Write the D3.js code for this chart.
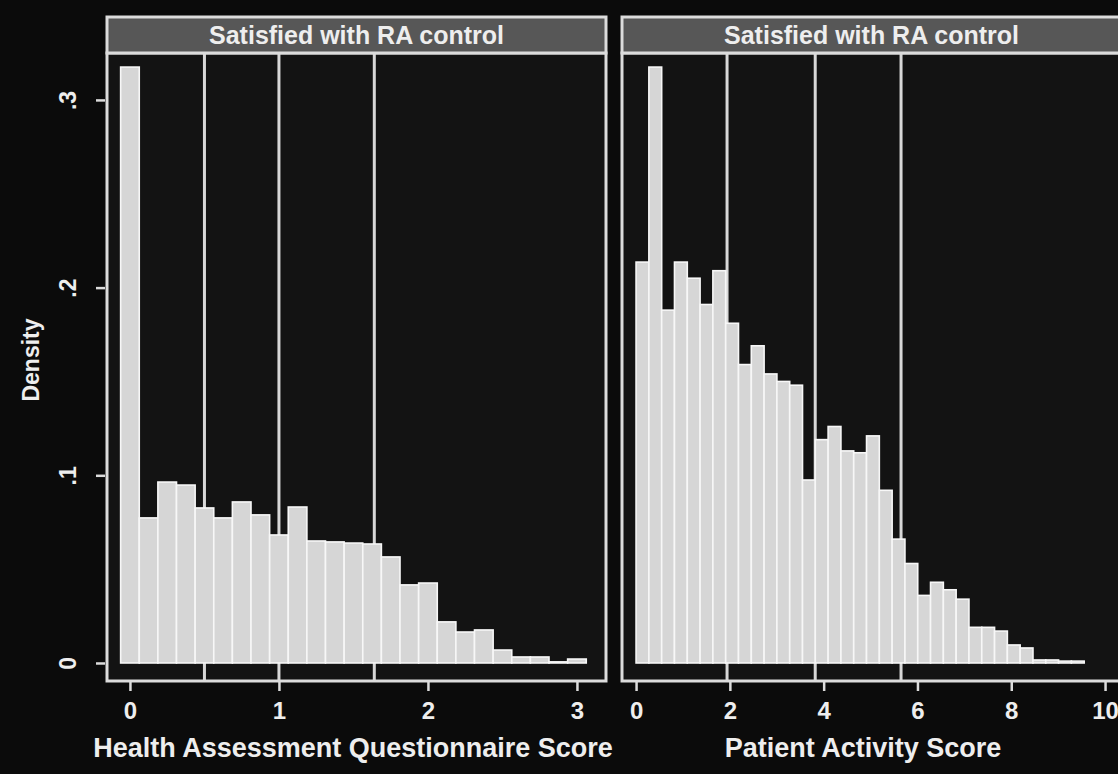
<!DOCTYPE html>
<html><head><meta charset="utf-8">
<script src="https://cdn.jsdelivr.net/npm/d3@7"></script>
<style>
body{margin:0;background:#0b0b0b;}
svg{display:block;}
text{font-family:"Liberation Sans",Arial,Helvetica,sans-serif;fill:#eeeeee;font-weight:bold;}
</style>
</head><body>
<svg id="c" width="1118" height="774"></svg>
<script>
// ---- data ----
const panelTitles = ["Satisfied with RA control", "Satisfied with RA control"];
const xTitles = ["Health Assessment Questionnaire Score", "Patient Activity Score"];
const yTitle = "Density";
const yTicks = [0, 0.1, 0.2, 0.3];
const yTickLabels = ["0", ".1", ".2", ".3"];
const haqTicks = [0, 1, 2, 3];
const pasTicks = [0, 2, 4, 6, 8, 10];

const haqBinStart = -0.0625;
const haqBinWidth = 0.125;
const haqDensity = [0.3175, 0.0773, 0.0964, 0.0948, 0.0826, 0.0773, 0.0858, 0.0789, 0.0682, 0.0831,
  0.0650, 0.0645, 0.0639, 0.0634, 0.0565, 0.0416, 0.0426, 0.0219, 0.0165, 0.0176,
  0.0069, 0.0032, 0.0032, 0.0006, 0.0021];

const pasBinStart = 0;
const pasBinWidth = 0.273;
const pasDensity = [0.2136, 0.3175, 0.1880, 0.2136, 0.2050, 0.1910, 0.2090, 0.1810, 0.1590, 0.1690,
  0.1540, 0.1500, 0.1480, 0.0975, 0.1190, 0.1260, 0.1130, 0.1120, 0.1210, 0.0920,
  0.0660, 0.0530, 0.0360, 0.0430, 0.0390, 0.0340, 0.0190, 0.0190, 0.0170, 0.0096,
  0.0080, 0.0016, 0.0016, 0.0010, 0.0010];

const haqRefLines = [0.5, 1.0, 1.64];
const pasRefLines = [1.94, 3.82, 5.65];

// ---- layout ----
const svg = d3.select("#c");
svg.append("rect").attr("width", 1118).attr("height", 774).attr("fill", "#0b0b0b");

const headTop = 17, plotTop = 53, plotBottom = 681;
const y = d3.scaleLinear().domain([-0.0096, 0.325]).range([plotBottom, plotTop]);

const panels = [
  { x0: 107, x1: 606, domain: [-0.154, 3.195], bins: haqDensity, start: haqBinStart, width: haqBinWidth,
    ticks: haqTicks, refs: haqRefLines, title: panelTitles[0], xTitle: xTitles[0], xTitleX: 353, yAxis: true },
  { x0: 622, x1: 1121, domain: [-0.3, 10.34], bins: pasDensity, start: pasBinStart, width: pasBinWidth,
    ticks: pasTicks, refs: pasRefLines, title: panelTitles[1], xTitle: xTitles[1], xTitleX: 863, yAxis: false }
];

const lineCol = "#dcdcdc";

panels.forEach(p => {
  const x = d3.scaleLinear().domain(p.domain).range([p.x0, p.x1]);
  const g = svg.append("g");

  // plot region background
  g.append("rect").attr("x", p.x0).attr("y", plotTop).attr("width", p.x1 - p.x0)
    .attr("height", plotBottom - plotTop).attr("fill", "#131313");

  // reference lines (behind bars)
  g.selectAll("line.ref").data(p.refs).join("line").attr("class", "ref")
    .attr("x1", d => x(d)).attr("x2", d => x(d))
    .attr("y1", plotTop).attr("y2", plotBottom)
    .attr("stroke", "#d8d8d8").attr("stroke-width", 3);

  // bars
  g.selectAll("rect.bar").data(p.bins).join("rect").attr("class", "bar")
    .attr("x", (d, i) => x(p.start + i * p.width))
    .attr("width", (d, i) => x(p.start + (i + 1) * p.width) - x(p.start + i * p.width))
    .attr("y", d => y(d))
    .attr("height", d => y(0) - y(d))
    .attr("fill", "#d6d6d6").attr("stroke", "#f7f7f7").attr("stroke-width", 1.6);

  // frame
  g.append("rect").attr("x", p.x0).attr("y", plotTop).attr("width", p.x1 - p.x0)
    .attr("height", plotBottom - plotTop).attr("fill", "none")
    .attr("stroke", lineCol).attr("stroke-width", 3);

  // header
  g.append("rect").attr("x", p.x0).attr("y", headTop).attr("width", p.x1 - p.x0)
    .attr("height", plotTop - headTop).attr("fill", "#575757")
    .attr("stroke", lineCol).attr("stroke-width", 3);
  g.append("text").attr("x", (p.x0 + p.x1) / 2).attr("y", 44)
    .attr("text-anchor", "middle").style("font-size", "25px").text(p.title);

  // x axis
  const ax = g.append("g").attr("transform", `translate(0,${plotBottom + 1})`)
    .call(d3.axisBottom(x).tickValues(p.ticks).tickFormat(d3.format("d")).tickSize(9).tickPadding(11));
  ax.select(".domain").remove();
  ax.selectAll(".tick line").attr("stroke", lineCol).attr("stroke-width", 2.5);
  ax.selectAll(".tick text").style("font-size", "24px").attr("fill", "#eeeeee");

  g.append("text").attr("x", p.xTitleX).attr("y", 757)
    .attr("text-anchor", "middle").style("font-size", "27px").text(p.xTitle);

  if (p.yAxis) {
    const ay = g.append("g").attr("transform", `translate(${p.x0 - 2},0)`)
      .call(d3.axisLeft(y).tickValues(yTicks).tickFormat((d, i) => yTickLabels[i]).tickSize(9));
    ay.select(".domain").remove();
    ay.selectAll(".tick line").attr("stroke", lineCol).attr("stroke-width", 2.5);
    ay.selectAll(".tick text").style("font-size", "23px").attr("fill", "#eeeeee")
      .attr("transform", "rotate(-90)").attr("x", 0).attr("y", -29).attr("dy", 0)
      .attr("text-anchor", "middle");
    g.append("text").attr("transform", "translate(39,360) rotate(-90)")
      .attr("text-anchor", "middle").style("font-size", "23px").text(yTitle);
  }
});
</script>
</body></html>
